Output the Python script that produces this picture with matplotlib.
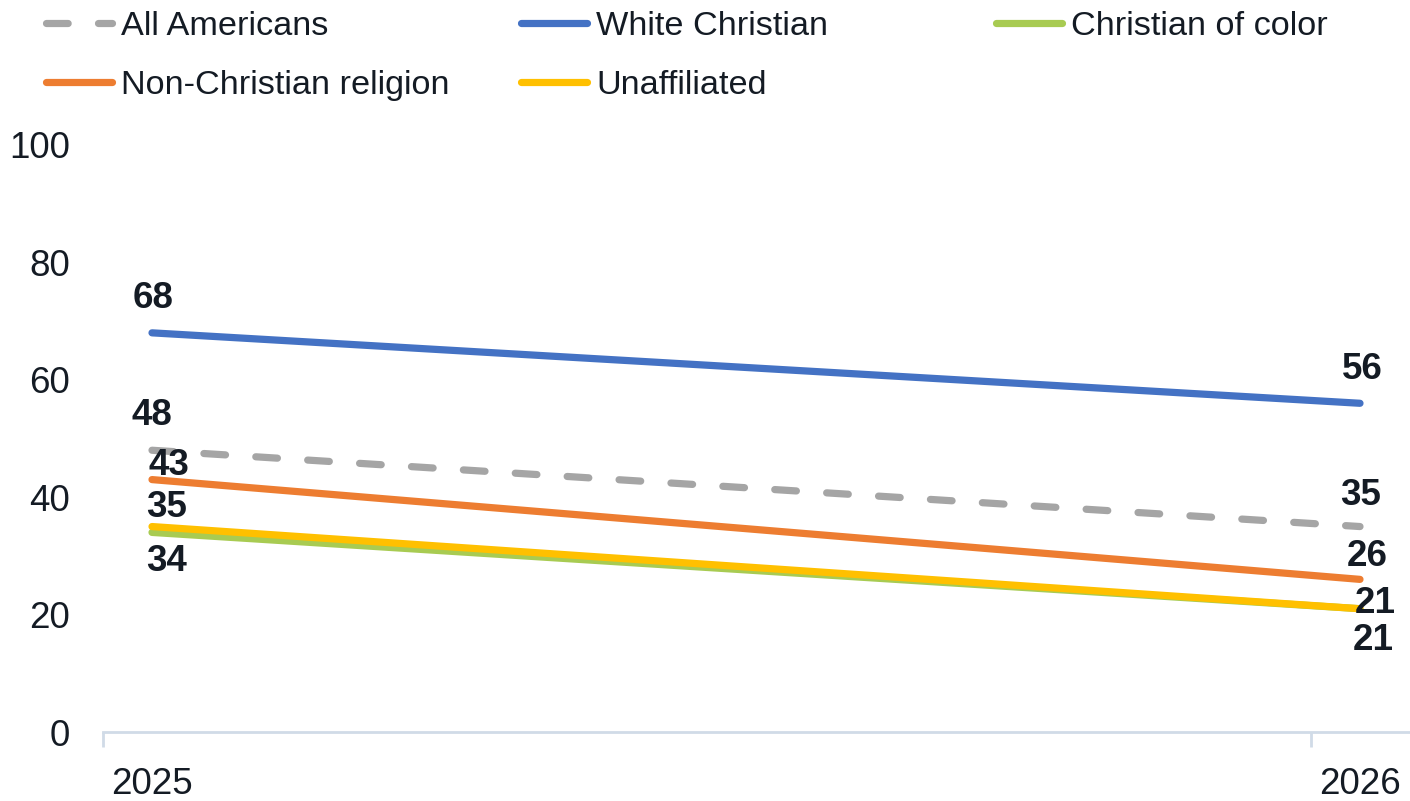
import matplotlib
matplotlib.use("Agg")
import matplotlib.pyplot as plt
from matplotlib.lines import Line2D

plt.rcParams['font.family'] = ['Liberation Sans', 'DejaVu Sans']

years = ["2025", "2026"]
series_names = ["All Americans", "White Christian", "Christian of color",
                "Non-Christian religion", "Unaffiliated"]
all_americans = [48, 35]
white_christian = [68, 56]
christian_of_color = [34, 21]
non_christian = [43, 26]
unaffiliated = [35, 21]
y_ticks = [0, 20, 40, 60, 80, 100]

colors = {
    "All Americans": "#A5A5A5",
    "White Christian": "#4472C4",
    "Christian of color": "#A8CB52",
    "Non-Christian religion": "#ED7D31",
    "Unaffiliated": "#FFC000",
}
values = {
    "All Americans": all_americans,
    "White Christian": white_christian,
    "Christian of color": christian_of_color,
    "Non-Christian religion": non_christian,
    "Unaffiliated": unaffiliated,
}
# label offsets in pixels (dx, dy) for each point
label_offsets = {
    "All Americans": [(0, 38), (1, 35)],
    "White Christian": [(1, 38), (2, 37)],
    "Christian of color": [(15, -25), (13, -28)],
    "Non-Christian religion": [(17, 18), (7, 27)],
    "Unaffiliated": [(15, 23), (15, 9)],
}

TXT = "#141b24"
AX = "#D0DBE7"
FS_AX = 26.5
FS_LAB = 26.5
FS_LEG = 24.7

fig = plt.figure(figsize=(14.10, 8.01), dpi=100)
W, H = 1410, 801
ax = fig.add_axes([103 / W, (H - 732) / H, (1410 - 103) / W, (732 - 145) / H])

x = list(range(len(years)))
lw = 5.2
zorders = {"All Americans": 2, "White Christian": 3, "Christian of color": 3,
           "Non-Christian religion": 3, "Unaffiliated": 4}
for name in series_names:
    v = values[name]
    if name == "All Americans":
        ax.plot(x, v, color=colors[name], lw=lw, dashes=(3, 4.2),
                dash_capstyle='round', solid_capstyle='round',
                zorder=zorders[name])
    else:
        ax.plot(x, v, color=colors[name], lw=lw, solid_capstyle='round',
                zorder=zorders[name])

cap_half = FS_LAB * 100 / 72 * 0.716 / 2
for name in series_names:
    v = values[name]
    for i, val in enumerate(v):
        dx, dy = label_offsets[name][i]
        ax.annotate(str(val), (x[i], val), xytext=(dx, dy - cap_half),
                    textcoords='offset pixels', ha='center', va='baseline',
                    fontsize=FS_LAB, fontweight='bold', color=TXT, zorder=6,
                    annotation_clip=False)

ax.set_ylim(0, 100)
left_lim = -49 / 1208
ax.set_xlim(left_lim, 1 + 50 / 1208)
ax.set_yticks(y_ticks)
ax.set_yticklabels([str(t) for t in y_ticks], fontsize=FS_AX, color=TXT)
ax.tick_params(axis='y', length=0, pad=24)
ax.set_xticks(x)
ax.set_xticklabels(years, fontsize=FS_AX, color=TXT)
ax.tick_params(axis='x', which='major', length=0, pad=25)
ax.set_xticks([left_lim, left_lim + 1], minor=True)
ax.tick_params(axis='x', which='minor', length=11, width=2, color=AX)

for s in ["top", "right", "left"]:
    ax.spines[s].set_visible(False)
ax.spines["bottom"].set_color(AX)
ax.spines["bottom"].set_linewidth(2)

def leg_handle(name):
    if name == "All Americans":
        return Line2D([], [], color=colors[name], lw=lw, dashes=(3, 4.2),
                      dash_capstyle='round')
    return Line2D([], [], color=colors[name], lw=lw, solid_capstyle='round')

cols = [["All Americans", "Non-Christian religion"],
        ["White Christian", "Unaffiliated"],
        ["Christian of color"]]
col_x = [45.5, 520.5, 995.5]
for names, cx in zip(cols, col_x):
    fig.legend([leg_handle(n) for n in names], names,
               loc='upper left', bbox_to_anchor=(cx / W, 1 - 11 / H),
               frameon=False, fontsize=FS_LEG, handlelength=1.95,
               handletextpad=0.25, labelspacing=0.82, borderpad=0,
               borderaxespad=0, labelcolor=TXT)

fig.savefig("out.png", dpi=100)
